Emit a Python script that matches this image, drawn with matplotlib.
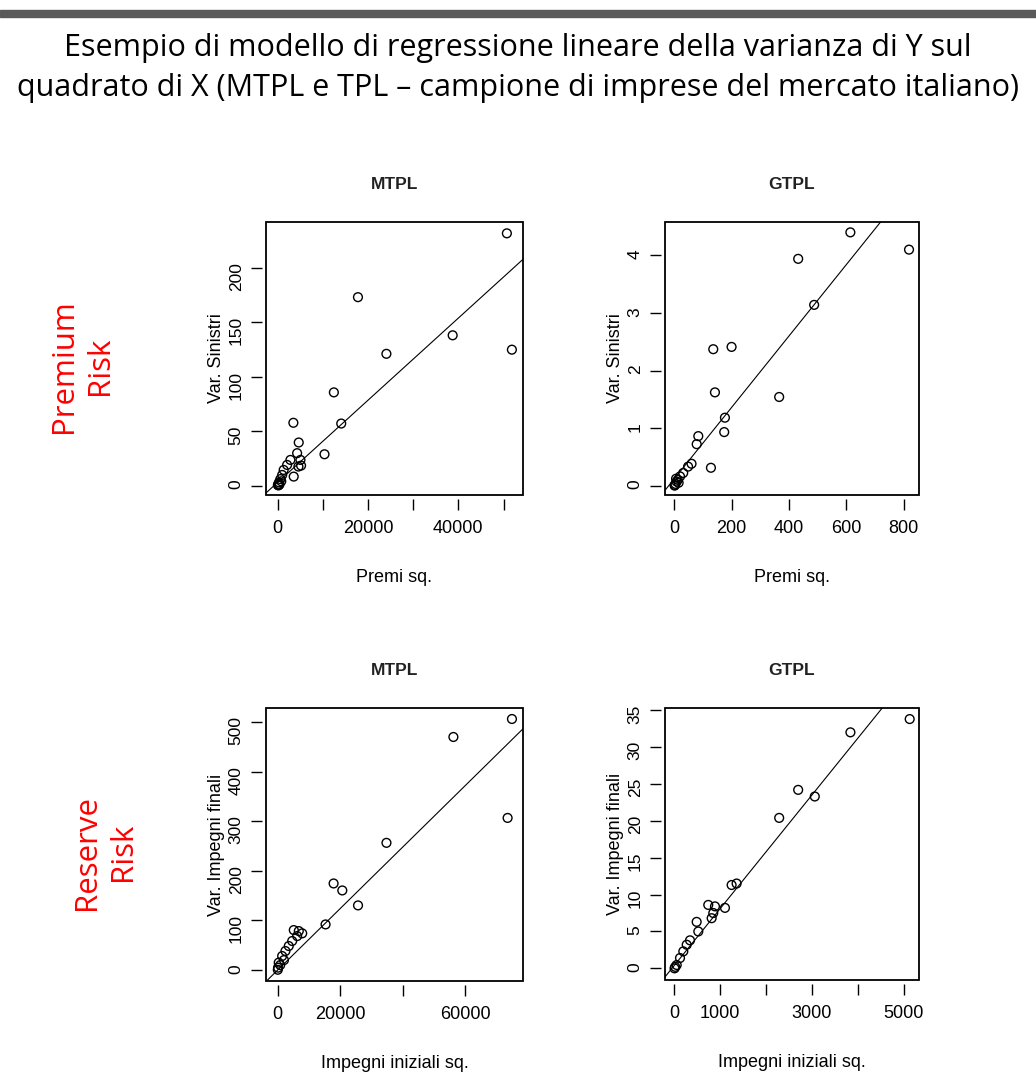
import matplotlib
matplotlib.use("Agg")
import matplotlib.pyplot as plt
from matplotlib.patches import Rectangle

plt.rcParams["font.family"] = ["Liberation Sans", "DejaVu Sans"]

# Dati (var. vs quadrato)
# MTPL - premium risk
p1_x = [50741, 51852, 38741, 17778, 24074, 12444, 14074, 10370, 3481, 4667, 4311, 5044,
        5185, 2822, 2089, 4600, 1333, 3556, 1000, 600, 300, 150, 50, 400, 800, 200]
p1_y = [231.6, 124.8, 138, 173, 121, 85.6, 57, 28.8, 57.7, 39.6, 29.8, 23.6,
        18.4, 23.6, 19, 17.5, 14.4, 8.3, 9.8, 6, 3, 1.5, 0.5, 1, 4, 0.2]
# GTPL - premium risk
p2_x = [614, 818.6, 432, 487.7, 135.8, 199.7, 141.7, 365.7, 176.5, 174, 83.6, 78,
        127.7, 60, 48, 31, 20, 12, 8, 4, 2, 1, 15, 6]
p2_y = [4.40, 4.10, 3.94, 3.14, 2.37, 2.41, 1.62, 1.54, 1.18, 0.93, 0.86, 0.72,
        0.31, 0.38, 0.33, 0.22, 0.16, 0.10, 0.07, 0.03, 0.01, 0.0, 0.05, 0.12]
# MTPL - reserve risk
p3_x = [75000, 56250, 73607, 34821, 17893, 20679, 25714, 15321, 5143, 6750, 7843, 6236,
        4629, 3536, 2475, 1414, 321, 100, 30, 800, 2000]
p3_y = [506.7, 470.4, 307, 256.7, 174.7, 160.6, 130.4, 92, 80.6, 78.6, 74, 68.5,
        58.5, 48.4, 38.3, 28.2, 14.9, 4.8, 0.5, 10, 20]
# GTPL - reserve risk
p4_x = [5131, 3839, 2700, 3062, 2286, 1249, 1358, 740, 886, 1104, 849, 814,
        487, 523, 342, 270, 196, 124, 52, 5, 20]
p4_y = [33.8, 32.0, 24.2, 23.3, 20.4, 11.3, 11.5, 8.6, 8.4, 8.2, 7.5, 6.8,
        6.3, 5.0, 3.8, 3.2, 2.3, 1.4, 0.45, 0.0, 0.2]

# retta di regressione (intercetta, pendenza)
fit_a = [3.0, 0.12, 0.0, 0.4]
fit_b = [0.00377, 0.0062, 0.0062, 0.0077]

titoli = ["MTPL", "GTPL", "MTPL", "GTPL"]
ylab = ["Var. Sinistri", "Var. Sinistri", "Var. Impegni finali", "Var. Impegni finali"]
xlab = ["Premi sq.", "Premi sq.", "Impegni iniziali sq.", "Impegni iniziali sq."]

xticks = [[0, 10000, 20000, 30000, 40000, 50000],
          [0, 200, 400, 600, 800],
          [0, 20000, 40000, 60000],
          [0, 1000, 2000, 3000, 4000, 5000]]
xticklab = [["0", "", "20000", "", "40000", ""],
            ["0", "200", "400", "600", "800"],
            ["0", "20000", "", "60000"],
            ["0", "1000", "", "3000", "", "5000"]]
yticks = [[0, 50, 100, 150, 200],
          [0, 1, 2, 3, 4],
          [0, 100, 200, 300, 400, 500],
          [0, 5, 10, 15, 20, 25, 30, 35]]
xlims = [(-2578, 54311), (-32.5, 853.4), (-3750, 78536), (-203, 5334)]
ylims = [(-8.6, 242), (-0.163, 4.58), (-22.2, 528.9), (-1.58, 35.3)]

W, H = 1036, 1092
fig = plt.figure(figsize=(W / 100, H / 100), dpi=100)

# barra grigia in alto
fig.patches.append(Rectangle((0, 1 - 17 / H), 1, 7 / H, transform=fig.transFigure,
                             color="#5a5a5a", zorder=0))

titolo = ("Esempio di modello di regressione lineare della varianza di Y sul\n"
          "quadrato di X (MTPL e TPL \u2013 campione di imprese del mercato italiano)")
fig.text(0.5, 1 - 68 / H, titolo, ha="center", va="center", fontsize=22,
         family="Open Sans", linespacing=1.45)

fig.text(82 / W, 1 - 366 / H, "Premium\nRisk", color="red", rotation=90,
         ha="center", va="center", fontsize=22.5, family="Open Sans", linespacing=1.3)
fig.text(105 / W, 1 - 852 / H, "Reserve\nRisk", color="red", rotation=90,
         ha="center", va="center", fontsize=22.5, family="Open Sans", linespacing=1.3)

# posizioni dei pannelli in pixel (sinistra, alto, destra, basso)
boxes = [(266, 222, 523, 495), (665, 222, 919, 495),
         (266, 708, 523, 981), (665, 708, 919, 980)]

xs = [p1_x, p2_x, p3_x, p4_x]
ys = [p1_y, p2_y, p3_y, p4_y]

for i in range(4):
    l, t, r, b = boxes[i]
    ax = fig.add_axes([l / W, 1 - b / H, (r - l) / W, (b - t) / H])
    ax.scatter(xs[i], ys[i], s=40, facecolors="none", edgecolors="black", linewidths=1.0)
    ax.axline((0, fit_a[i]), slope=fit_b[i], color="black", lw=0.8)
    ax.set_xlim(xlims[i])
    ax.set_ylim(ylims[i])
    ax.set_xticks(xticks[i], xticklab[i])
    ax.set_yticks(yticks[i], [str(v) for v in yticks[i]])
    ax.tick_params(length=8, width=1.0, pad=7, labelsize=13)
    ax.tick_params(axis="y", labelrotation=90, labelsize=12.5, pad=5)
    for lab in ax.get_yticklabels():
        lab.set_va("center")
    for s in ["bottom", "left"]:
        ax.spines[s].set_position(("outward", 3))
        ax.spines[s].set_visible(False)
    for s in ["top", "right"]:
        ax.spines[s].set_visible(False)
    ax.add_patch(Rectangle((0, 0), 1, 1, transform=ax.transAxes, fill=False,
                           lw=1.3, color="black", clip_on=False))
    ax.set_title(titoli[i], fontsize=12.5, fontweight="bold", color="#222222", pad=24)
    ax.set_ylabel(ylab[i], fontsize=13, labelpad=3)
    ax.set_xlabel(xlab[i], fontsize=13, labelpad=23)

fig.savefig("out.png", dpi=100)
